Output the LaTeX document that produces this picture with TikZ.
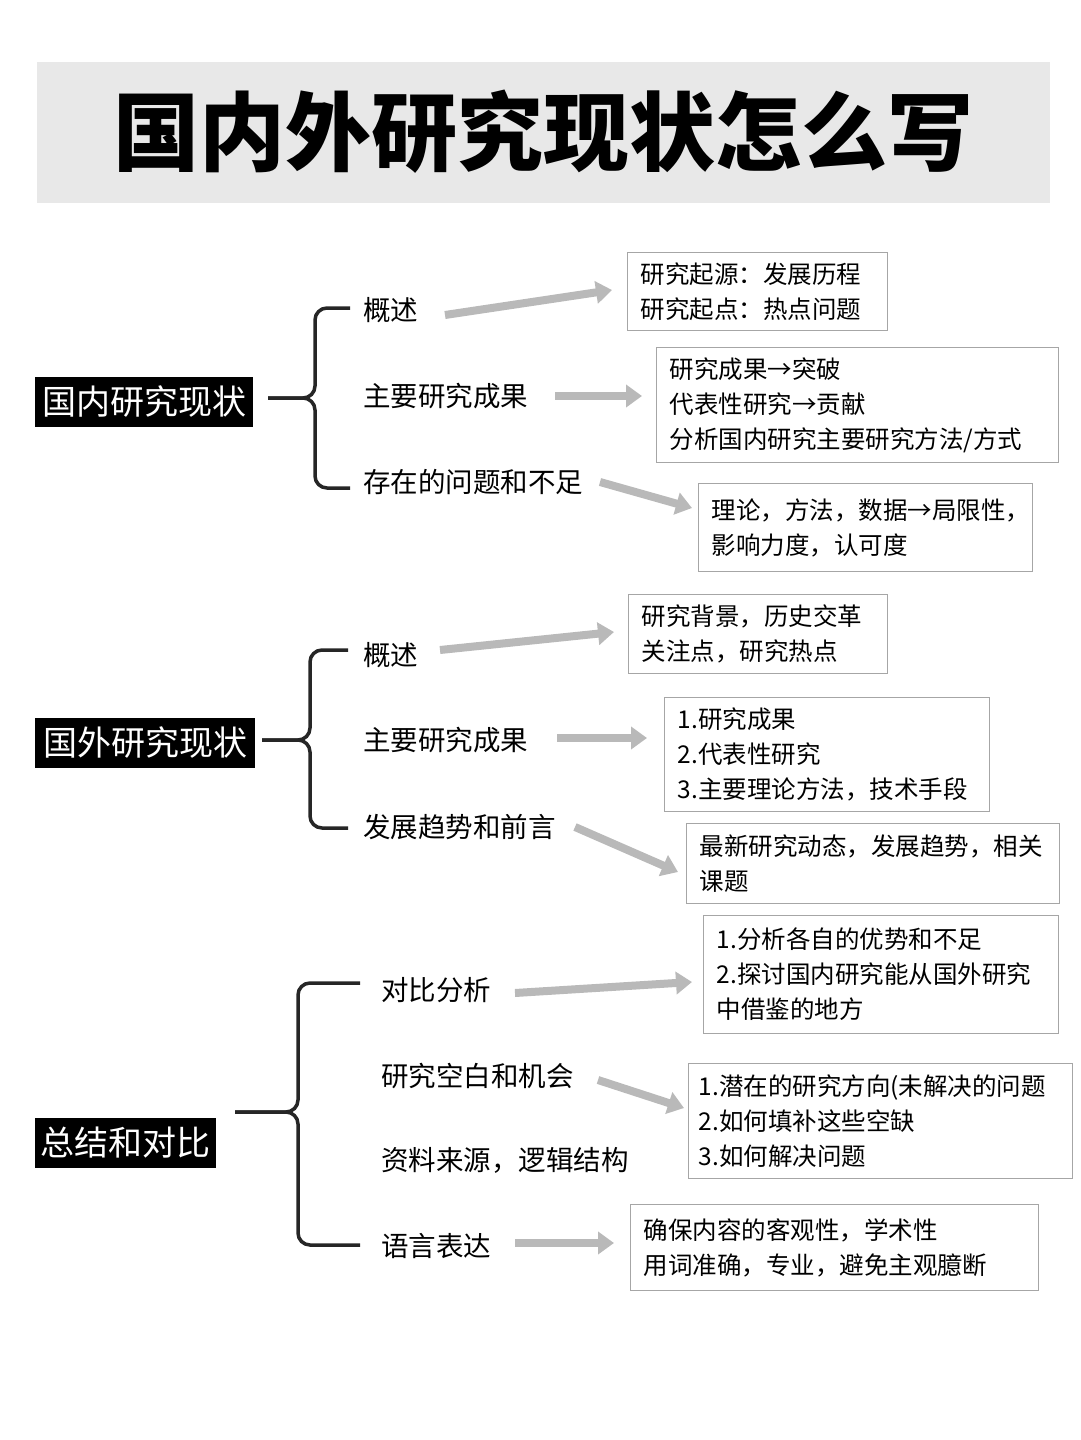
\documentclass[tikz,border=0pt]{standalone}
\usepackage{fontspec}
\setmainfont{Noto Sans CJK SC}
\usetikzlibrary{arrows.meta,positioning}
\tikzset{
  sectionbox/.style={fill=black,text=white,font=\fontsize{34}{38}\selectfont,inner sep=3pt,anchor=west,minimum height=50pt},
  itemtext/.style={font=\fontsize{27.5}{32}\selectfont,anchor=west,inner sep=0pt},
  notebox/.style={draw=gray!70,line width=1.2pt,align=left,anchor=north west,font=\fontsize{24.5}{35}\selectfont,inner xsep=13pt,inner ysep=6pt},
  fatarrow/.style={draw=gray!55,line width=8pt,-{Triangle[length=16pt,width=22pt]}},
  bracket/.style={draw=black!85,line width=3.5pt,rounded corners=12pt}
}
\begin{document}
\begin{tikzpicture}[x=1pt,y=-1pt]
\useasboundingbox (0,0) rectangle (1080,1440);
% title
\fill[gray!18] (37,62) rectangle (1050,203);
\node[font=\fontsize{86}{92}\selectfont\bfseries] (title) at (543,132) {国内外研究现状怎么写};

% domestic
\node[sectionbox,minimum width=218pt] (s1) at (35,402) {国内研究现状};
\draw[bracket] (350,308) -- (315,308) -- (315,398) -- (268,398);
\draw[bracket] (268,398) -- (315,398) -- (315,488) -- (350,488);
\node[itemtext] (a1) at (363,310) {概述};
\node[itemtext] (a2) at (363,396) {主要研究成果};
\node[itemtext] (a3) at (363,482) {存在的问题和不足};
\node[notebox,text width=234pt,minimum height=78pt] (b1) at (627,252) {研究起源：发展历程\\研究起点：热点问题};
\node[notebox,text width=376pt,minimum height=115pt] (b2) at (656,347) {研究成果→突破\\代表性研究→贡献\\分析国内研究主要研究方法/方式};
\node[notebox,text width=308pt,minimum height=88pt] (b3) at (698,483) {理论，方法，数据→局限性，\\影响力度，认可度};
\coordinate (a1e) at (445,315); \coordinate (b1w) at (612,290);
\coordinate (a2e) at (555,396); \coordinate (b2w) at (642,396);
\coordinate (a3e) at (600,482); \coordinate (b3w) at (692,508);
\draw[fatarrow] (a1e) -- (b1w);
\draw[fatarrow] (a2e) -- (b2w);
\draw[fatarrow] (a3e) -- (b3w);

% foreign
\node[sectionbox,minimum width=220pt] (s2) at (35,743) {国外研究现状};
\draw[bracket] (348,650) -- (310,650) -- (310,740) -- (262,740);
\draw[bracket] (262,740) -- (310,740) -- (310,828) -- (348,828);
\node[itemtext] (c1) at (363,655) {概述};
\node[itemtext] (c2) at (363,740) {主要研究成果};
\node[itemtext] (c3) at (363,827) {发展趋势和前言};
\node[notebox,text width=233pt,minimum height=79pt] (d1) at (628,594) {研究背景，历史交革\\关注点，研究热点};
\node[notebox,text width=299pt,minimum height=114pt] (d2) at (664,697) {1.研究成果\\2.代表性研究\\3.主要理论方法，技术手段};
\node[notebox,text width=347pt,minimum height=80pt] (d3) at (686,823) {最新研究动态，发展趋势，相关\\课题};
\coordinate (c1e) at (440,650); \coordinate (d1w) at (614,632);
\coordinate (c2e) at (557,738); \coordinate (d2w) at (647,738);
\coordinate (c3e) at (575,827); \coordinate (d3w) at (678,872);
\draw[fatarrow] (c1e) -- (d1w);
\draw[fatarrow] (c2e) -- (d2w);
\draw[fatarrow] (c3e) -- (d3w);

% summary
\node[sectionbox,minimum width=181pt] (s3) at (35,1143) {总结和对比};
\draw[bracket] (360,983) -- (298,983) -- (298,1112) -- (235,1112);
\draw[bracket] (235,1112) -- (298,1112) -- (298,1245) -- (360,1245);
\node[itemtext] (e1) at (381,990) {对比分析};
\node[itemtext] (e2) at (381,1076) {研究空白和机会};
\node[itemtext] (e3) at (381,1160) {资料来源，逻辑结构};
\node[itemtext] (e4) at (381,1246) {语言表达};
\node[notebox,text width=329pt,minimum height=118pt] (f1) at (703,915) {1.分析各自的优势和不足\\2.探讨国内研究能从国外研究\\中借鉴的地方};
\node[notebox,text width=364pt,minimum height=115pt,inner xsep=10pt] (f2) at (688,1063) {1.潜在的研究方向(未解决的问题\\2.如何填补这些空缺\\3.如何解决问题};
\node[notebox,text width=382pt,minimum height=86pt] (f4) at (630,1204) {确保内容的客观性，学术性\\用词准确，专业，避免主观臆断};
\coordinate (e1e) at (515,993); \coordinate (f1w) at (692,982);
\coordinate (e2e) at (598,1080); \coordinate (f2w) at (684,1108);
\coordinate (e4e) at (515,1243); \coordinate (f4w) at (614,1243);
\draw[fatarrow] (e1e) -- (f1w);
\draw[fatarrow] (e2e) -- (f2w);
\draw[fatarrow] (e4e) -- (f4w);
\end{tikzpicture}
\end{document}
